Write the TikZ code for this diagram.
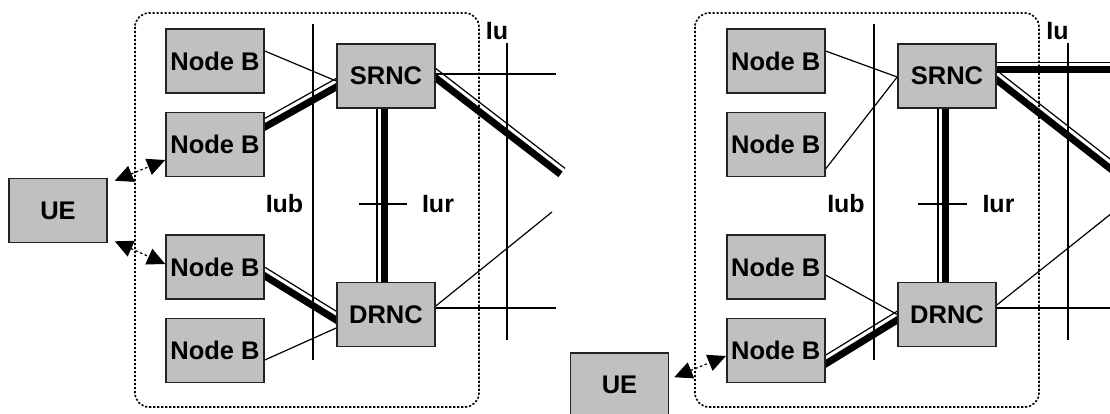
\documentclass[tikz,border=0pt]{standalone}
\usepackage{fontspec}
\setmainfont{Liberation Sans}
\usetikzlibrary{calc,arrows.meta}
\pgfdeclarelayer{bg}
\pgfsetlayers{bg,main}
\definecolor{boxgray}{RGB}{192,192,192}
\definecolor{edge}{RGB}{35,35,35}
\newcommand{\dblline}[2]{%
  \coordinate (dA) at ($(#1)!-12pt!(#2)$);
  \coordinate (dB) at ($(#2)!-12pt!(#1)$);
  \draw[thickline] (dA) -- (dB);
  \draw[thinline] ($(dA)!7.5pt!90:(dB)$) -- ($(dB)!7.5pt!-90:(dA)$);
}
\tikzset{
  unit/.style={draw=edge, fill=boxgray, line width=1.6pt, minimum width=98pt, minimum height=64pt,
    inner sep=0pt, font=\fontsize{25.5}{30}\selectfont\bfseries},
  lbl/.style={inner sep=0pt, font=\fontsize{25}{30}\selectfont\bfseries},
  thinline/.style={draw=black, line width=1.2pt},
  thickline/.style={draw=black, line width=7pt},
  ifline/.style={draw=black, line width=1.4pt},
  grpbox/.style={draw=black, line width=1.6pt, dash pattern=on 2.2pt off 1.8pt, rounded corners=14pt},
  radio/.style={draw=black, line width=1.2pt, dash pattern=on 2.5pt off 2.5pt,
    {Triangle[length=18pt,width=17pt]}-{Triangle[length=18pt,width=17pt]}}
}
\begin{document}
\begin{tikzpicture}[x=1pt,y=-1pt]
\useasboundingbox (0,0) rectangle (1110,414);

% ---------------- left panel ----------------
\draw[grpbox] (135,13) rectangle (479,407);
\node[unit] (LB1) at (215,61) {Node B};
\node[unit] (LB2) at (215,144.5) {Node B};
\node[unit] (LB3) at (215,267) {Node B};
\node[unit] (LB4) at (215,350.5) {Node B};
\node[unit] (LS) at (386,76) {SRNC};
\node[unit] (LD) at (386,314.5) {DRNC};
\node[unit] (LUE) at (58,210.5) {UE};
\node[lbl] (LIub) at (284.5,204) {Iub};
\node[lbl] (LIur) at (438,204) {Iur};
\node[lbl] (LIu) at (497,31) {Iu};

\coordinate (LiubT) at (313,24);
\coordinate (LiubB) at (313,360);
\coordinate (LiuT) at (507,43);
\coordinate (LiuB) at (507,340);
\coordinate (LiurL) at (359,204);
\coordinate (LiurR) at (407,204);
\coordinate (LSh) at (556,74);
\coordinate (LSd) at (551,167);
\coordinate (LDh) at (556,308);
\coordinate (LDd) at (552,212);

\begin{pgfonlayer}{bg}
  \draw[thinline] ([yshift=10pt]LB1.east) -- ([yshift=-5pt]LS.west);
  \dblline{[yshift=17.5pt]LB2.east}{[yshift=-11pt]LS.west}
  \dblline{[yshift=-9pt]LB3.east}{[yshift=-5.5pt]LD.west}
  \draw[thinline] ([yshift=-9.5pt]LB4.east) -- ([yshift=-13.5pt]LD.west);
  \dblline{[xshift=-1.5pt]LD.north}{[xshift=-1.5pt]LS.south}
  \draw[thinline] ([yshift=2pt]LS.east) -- (LSh);
  \dblline{[yshift=-2pt]LS.east}{LSd}
  \draw[thinline] ([yshift=6.5pt]LD.east) -- (LDh);
  \draw[thinline] ([yshift=8.5pt]LD.east) -- (LDd);
\end{pgfonlayer}
\draw[ifline] (LiubT) -- (LiubB);
\draw[ifline] (LiuT) -- (LiuB);
\draw[ifline] (LiurL) -- (LiurR);
\draw[radio] ([xshift=7pt,yshift=-3pt]LUE.north east) -- ([yshift=-15.5pt]LB2.west);
\draw[radio] ([xshift=7pt,yshift=2pt]LUE.south east) -- ([yshift=3pt]LB3.west);

% ---------------- right panel ----------------
\draw[grpbox] (695,13) rectangle (1039,407);
\node[unit] (RB1) at (775.75,61) {Node B};
\node[unit] (RB2) at (775.75,144.5) {Node B};
\node[unit] (RB3) at (775.75,267) {Node B};
\node[unit] (RB4) at (775.75,350.5) {Node B};
\node[unit] (RS) at (947,76) {SRNC};
\node[unit] (RD) at (947,314.5) {DRNC};
\node[unit] (RUE) at (619.5,385) {UE};
\node[lbl] (RIub) at (846,204) {Iub};
\node[lbl] (RIur) at (998.5,204) {Iur};
\node[lbl] (RIu) at (1057.5,31) {Iu};

\coordinate (RiubT) at (874,24);
\coordinate (RiubB) at (874,360);
\coordinate (RiuT) at (1068,43);
\coordinate (RiuB) at (1068,340);
\coordinate (RiurL) at (918,204);
\coordinate (RiurR) at (967,204);
\coordinate (RSh) at (1112,70);
\coordinate (RSd) at (1112,170);
\coordinate (RDh) at (1112,308);
\coordinate (RDd) at (1112,213);

\begin{pgfonlayer}{bg}
  \draw[thinline] ([yshift=10pt]RB1.east) -- ([yshift=-1pt]RS.west);
  \draw[thinline] ([yshift=-24.5pt]RB2.east) -- ([yshift=-1pt]RS.west);
  \draw[thinline] ([yshift=-8pt]RB3.east) -- (RD.west);
  \dblline{[yshift=-13.5pt]RB4.east}{[yshift=-5.5pt]RD.west}
  \dblline{[xshift=-1.5pt]RD.north}{[xshift=-1.5pt]RS.south}
  \dblline{[yshift=6pt]RS.east}{RSh}
  \dblline{[yshift=-4pt]RS.east}{RSd}
  \draw[thinline] ([yshift=6.5pt]RD.east) -- (RDh);
  \draw[thinline] ([yshift=9.5pt]RD.east) -- (RDd);
\end{pgfonlayer}
\draw[ifline] (RiubT) -- (RiubB);
\draw[ifline] (RiuT) -- (RiuB);
\draw[ifline] (RiurL) -- (RiurR);
\draw[radio] ([xshift=5pt,yshift=-25pt]RUE.north east) -- ([yshift=-5.5pt]RB4.west);
\end{tikzpicture}
\end{document}
